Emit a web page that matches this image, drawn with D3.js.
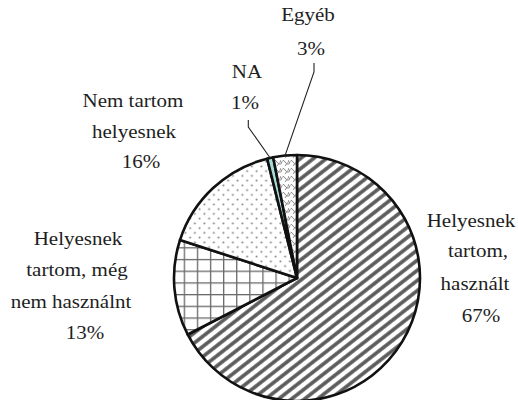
<!DOCTYPE html>
<html>
<head>
<meta charset="utf-8">
<script src="https://cdn.jsdelivr.net/npm/d3@7"></script>
</head>
<body style="margin:0;background:#fff">
<svg id="chart" width="518" height="400" style="display:block"></svg>
<script>
// ---- data ----
const categories = [
  "Helyesnek tartom, használt",
  "Helyesnek tartom, még nem használnt",
  "Nem tartom helyesnek",
  "NA",
  "Egyéb"
];
const values = [67.4, 12.6, 16.1, 0.8, 3.1];
const labelLines = [
  ["Helyesnek", "tartom,", "használt"],
  ["Helyesnek", "tartom, még", "nem használnt"],
  ["Nem tartom", "helyesnek"],
  ["NA"],
  ["Egyéb"]
];
const percentLabels = ["67%", "13%", "16%", "1%", "3%"];

// ---- layout ----
const FONT = "Liberation Serif";
const BASE_SIZE = 18, TARGET_SIZE = 21;
const cx = 297, cy = 278, R = 123;
const labelLayout = [
  { xs: [471, 478, 475, 481], ys: [227, 257, 290, 322] },
  { xs: [78, 77, 71, 85], ys: [245, 276, 308, 339] },
  { xs: [133, 134, 141], ys: [107, 138, 168] },
  { xs: [247, 245], ys: [78, 109] },
  { xs: [308, 311], ys: [21, 55] }
];
const leaders = [null, null, null, { x: 248.3, y0: 120, y1: 127 }, { x: 314, y0: 63, y1: 72 }];

const svg = d3.select("#chart");
const defs = svg.append("defs");

// stripes
const pStripe = defs.append("pattern").attr("id", "pStripe")
  .attr("patternUnits", "userSpaceOnUse").attr("width", 8).attr("height", 8)
  .attr("patternTransform", "rotate(-38)");
pStripe.append("rect").attr("width", 8).attr("height", 8).attr("fill", "#fff");
pStripe.append("line").attr("x1", 0).attr("x2", 8).attr("y1", 4).attr("y2", 4)
  .attr("stroke", "#5a5a5a").attr("stroke-width", 3.6);

// grid
const gw = 13.1, gh = 11.7;
const pGrid = defs.append("pattern").attr("id", "pGrid")
  .attr("patternUnits", "userSpaceOnUse").attr("width", gw).attr("height", gh)
  .attr("x", 188 % gw).attr("y", 261.7 % gh);
pGrid.append("rect").attr("width", gw).attr("height", gh).attr("fill", "#fff");
pGrid.append("line").attr("x1", 0.6).attr("x2", 0.6).attr("y1", 0).attr("y2", gh)
  .attr("stroke", "#6a6a6a").attr("stroke-width", 1.4);
pGrid.append("line").attr("x1", 0).attr("x2", gw).attr("y1", 0.6).attr("y2", 0.6)
  .attr("stroke", "#6a6a6a").attr("stroke-width", 1.4);

// dots
const ds = 9.5;
const pDots = defs.append("pattern").attr("id", "pDots")
  .attr("patternUnits", "userSpaceOnUse").attr("width", ds).attr("height", ds);
pDots.append("rect").attr("width", ds).attr("height", ds).attr("fill", "#fff");
pDots.append("circle").attr("cx", ds / 4).attr("cy", ds / 4).attr("r", 1).attr("fill", "#808080");
pDots.append("circle").attr("cx", 3 * ds / 4).attr("cy", 3 * ds / 4).attr("r", 1).attr("fill", "#808080");

// waves
const pWave = defs.append("pattern").attr("id", "pWave")
  .attr("patternUnits", "userSpaceOnUse").attr("width", 8).attr("height", 8);
pWave.append("rect").attr("width", 8).attr("height", 8).attr("fill", "#fff");
pWave.append("path").attr("d", "M0,6 Q2,0 4,4 Q6,8 8,2")
  .attr("fill", "none").attr("stroke", "#8a8a8a").attr("stroke-width", 1);
pWave.append("path").attr("d", "M4,8 Q5,5 8,6")
  .attr("fill", "none").attr("stroke", "#8a8a8a").attr("stroke-width", 1);

const fills = ["url(#pStripe)", "url(#pGrid)", "url(#pDots)", "#a6dbd8", "url(#pWave)"];

const pie = d3.pie().sort(null).value(d => d)
  .startAngle(0).endAngle(2 * Math.PI);
const arcs = pie(values);
const arc = d3.arc().innerRadius(0).outerRadius(R);
const arcEdge = d3.arc().innerRadius(R).outerRadius(R);

const g = svg.append("g").attr("transform", `translate(${cx},${cy})`);
g.selectAll("path.slice").data(arcs).join("path")
  .attr("class", "slice")
  .attr("d", arc)
  .attr("fill", (d, i) => fills[i])
  .attr("stroke", "#111")
  .attr("stroke-width", 2.6)
  .attr("stroke-linejoin", "round");

// leader lines
arcs.forEach((d, i) => {
  const L = leaders[i];
  if (!L) return;
  const p = arcEdge.centroid(d);
  svg.append("polyline")
    .attr("points", `${L.x},${L.y0} ${L.x},${L.y1} ${cx + p[0]},${cy + p[1]}`)
    .attr("fill", "none").attr("stroke", "#222").attr("stroke-width", 1.1);
});

// labels: serif at 18px, widened to the 21px width of the reference
const k = TARGET_SIZE / BASE_SIZE;
categories.forEach((c, i) => {
  const lines = labelLines[i].concat([percentLabels[i]]);
  const lay = labelLayout[i];
  lines.forEach((t, j) => {
    const txt = svg.append("text")
      .attr("x", lay.xs[j]).attr("y", lay.ys[j])
      .attr("text-anchor", "middle")
      .style("font-family", `"${FONT}", serif`)
      .style("font-size", BASE_SIZE + "px")
      .style("fill", "#1e1e1e")
      .text(t);
    const w = txt.node().getComputedTextLength();
    if (w > 0) {
      txt.attr("textLength", (w * k).toFixed(1))
         .attr("lengthAdjust", "spacingAndGlyphs");
    }
  });
});
</script>
</body>
</html>
